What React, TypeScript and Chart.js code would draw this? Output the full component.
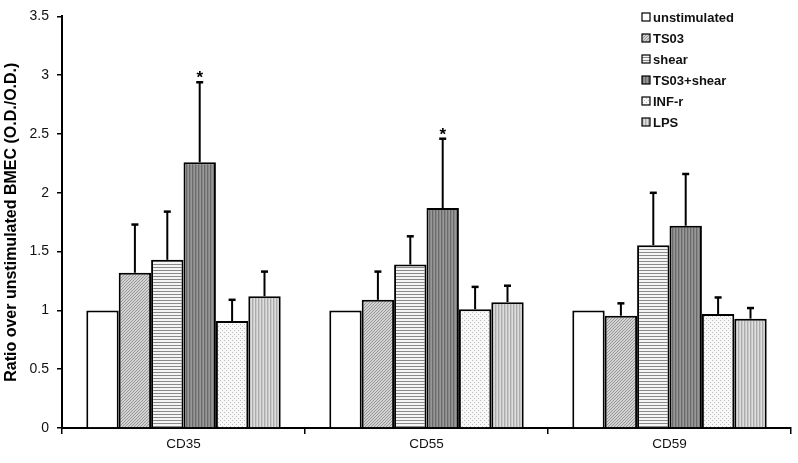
import React, { useEffect, useRef } from "react";
import { Chart, registerables } from "chart.js";

Chart.register(...registerables);

const categories = ["CD35", "CD55", "CD59"];
const seriesNames = ["unstimulated", "TS03", "shear", "TS03+shear", "INF-r", "LPS"];
const unstimulated = [1.0, 1.0, 1.0];
const ts03 = [1.32, 1.09, 0.955];
const shear = [1.43, 1.39, 1.555];
const ts03Shear = [2.26, 1.87, 1.72];
const infR = [0.91, 1.01, 0.97];
const lps = [1.12, 1.07, 0.93];
const errUnstimulated = [0, 0, 0];
const errTs03 = [0.41, 0.24, 0.105];
const errShear = [0.41, 0.24, 0.445];
const errTs03Shear = [0.68, 0.59, 0.44];
const errInfR = [0.18, 0.19, 0.14];
const errLps = [0.21, 0.14, 0.09];
const yTicks = [0, 0.5, 1, 1.5, 2, 2.5, 3, 3.5];
const starred = [
  [false, false, false],
  [false, false, false],
  [false, false, false],
  [true, true, false],
  [false, false, false],
  [false, false, false],
];

function makePattern(kind: string): CanvasPattern | string {
  const c = document.createElement("canvas");
  const ctx = c.getContext("2d")!;
  if (kind === "white") return "#ffffff";
  if (kind === "diag") {
    c.width = 3; c.height = 3;
    ctx.fillStyle = "#d2d2d2"; ctx.fillRect(0, 0, 3, 3);
    ctx.fillStyle = "#989898";
    for (let i = 0; i < 3; i++) ctx.fillRect(i, 2 - i, 1, 1);
  } else if (kind === "hlines") {
    c.width = 4; c.height = 3;
    ctx.fillStyle = "#f4f4f4"; ctx.fillRect(0, 0, 4, 3);
    ctx.fillStyle = "#8a8a8a"; ctx.fillRect(0, 0, 4, 1);
  } else if (kind === "darkv") {
    c.width = 3; c.height = 4;
    ctx.fillStyle = "#888888"; ctx.fillRect(0, 0, 3, 4);
    ctx.fillStyle = "#6a6a6a"; ctx.fillRect(0, 0, 1, 4);
    ctx.fillStyle = "#989898"; ctx.fillRect(2, 0, 1, 4);
  } else if (kind === "dots") {
    c.width = 4; c.height = 4;
    ctx.fillStyle = "#f8f8f8"; ctx.fillRect(0, 0, 4, 4);
    ctx.fillStyle = "#bcbcbc";
    ctx.fillRect(0, 0, 1, 1); ctx.fillRect(2, 2, 1, 1);
  } else if (kind === "lightv") {
    c.width = 3; c.height = 4;
    ctx.fillStyle = "#cacaca"; ctx.fillRect(0, 0, 3, 4);
    ctx.fillStyle = "#ababab"; ctx.fillRect(0, 0, 1, 4);
    ctx.fillStyle = "#dedede"; ctx.fillRect(2, 0, 1, 4);
  }
  return ctx.createPattern(c, "repeat")!;
}

export default function App() {
  const ref = useRef<HTMLCanvasElement>(null);
  useEffect(() => {
    const canvas = ref.current!;
    const values = [unstimulated, ts03, shear, ts03Shear, infR, lps];
    const errs = [errUnstimulated, errTs03, errShear, errTs03Shear, errInfR, errLps];
    const kinds = ["white", "diag", "hlines", "darkv", "dots", "lightv"];
    const fills = kinds.map(makePattern);

    const errorPlugin = {
      id: "errbars",
      afterDatasetsDraw(chart: any) {
        const ctx = chart.ctx;
        const ys = chart.scales.y;
        ctx.save();
        ctx.strokeStyle = "#000";
        ctx.fillStyle = "#000";
        values.forEach((vals, i) => {
          const meta = chart.getDatasetMeta(i);
          meta.data.forEach((bar: any, j: number) => {
            const e = errs[i][j];
            if (e > 0) {
              const yTop = ys.getPixelForValue(vals[j] + e);
              ctx.lineWidth = 2;
              ctx.beginPath();
              ctx.moveTo(bar.x, bar.y);
              ctx.lineTo(bar.x, yTop);
              ctx.stroke();
              ctx.lineWidth = 2.5;
              ctx.beginPath();
              ctx.moveTo(bar.x - 3.5, yTop);
              ctx.lineTo(bar.x + 3.5, yTop);
              ctx.stroke();
              if (starred[i][j]) {
                ctx.font = "bold 17px 'Liberation Sans', Arial";
                ctx.textAlign = "center";
                ctx.textBaseline = "alphabetic";
                ctx.fillText("*", bar.x, yTop + 1);
              }
            }
          });
        });
        ctx.restore();
      },
      afterDraw(chart: any) {
        const ctx = chart.ctx;
        ctx.save();
        seriesNames.forEach((name, i) => {
          const y = 17 + i * 21;
          ctx.fillStyle = fills[i];
          ctx.fillRect(642, y - 4, 8, 8);
          ctx.strokeStyle = "#000";
          ctx.lineWidth = 1.2;
          ctx.strokeRect(642, y - 4, 8, 8);
          ctx.fillStyle = "#111";
          ctx.font = "bold 13px 'Liberation Sans', Arial";
          ctx.textAlign = "left";
          ctx.textBaseline = "middle";
          ctx.fillText(name, 653, y + 1);
        });
        ctx.restore();
      },
    };

    const chart = new Chart(canvas, {
      type: "bar",
      data: {
        labels: categories,
        datasets: seriesNames.map((name, i) => ({
          label: name,
          data: values[i],
          backgroundColor: fills[i] as any,
          borderColor: "#000",
          borderWidth: 2,
          categoryPercentage: 0.8,
          barPercentage: 1.0,
        })),
      },
      options: {
        responsive: false,
        animation: false,
        layout: { padding: { top: 14, right: 7, left: 0, bottom: 0 } },
        plugins: { legend: { display: false }, tooltip: { enabled: false } },
        scales: {
          x: {
            grid: { display: true, drawOnChartArea: false, offset: true, color: "#000", lineWidth: 1.5, tickLength: 6 },
            border: { display: true, color: "#000", width: 2 },
            ticks: { color: "#111", font: { family: "'Liberation Sans', Arial", size: 13.5 }, padding: 2 },
            afterFit(scale: any) { scale.height = 35; },
          },
          y: {
            min: 0,
            max: 3.5,
            afterBuildTicks(scale: any) { scale.ticks = yTicks.map((v) => ({ value: v })); },
            grid: { display: true, drawOnChartArea: false, color: "#000", lineWidth: 1.5, tickLength: 5 },
            border: { display: true, color: "#000", width: 2 },
            ticks: {
              color: "#111",
              font: { family: "'Liberation Sans', Arial", size: 14 },
              padding: 8,
              callback: (v: any) => String(v),
            },
            title: {
              display: true,
              text: "Ratio over unstimulated BMEC (O.D./O.D.)",
              color: "#000",
              font: { family: "'Liberation Sans', Arial", size: 16, weight: "bold" },
              padding: 2,
            },
            afterFit(scale: any) { scale.width = 62; },
          },
        },
      },
      plugins: [errorPlugin],
    } as any);
    return () => chart.destroy();
  }, []);
  return (
    <div style={{ position: "absolute", left: 0, top: 0, width: 798, height: 463, background: "#fff" }}>
      <canvas ref={ref} width={798} height={463} />
    </div>
  );
}
